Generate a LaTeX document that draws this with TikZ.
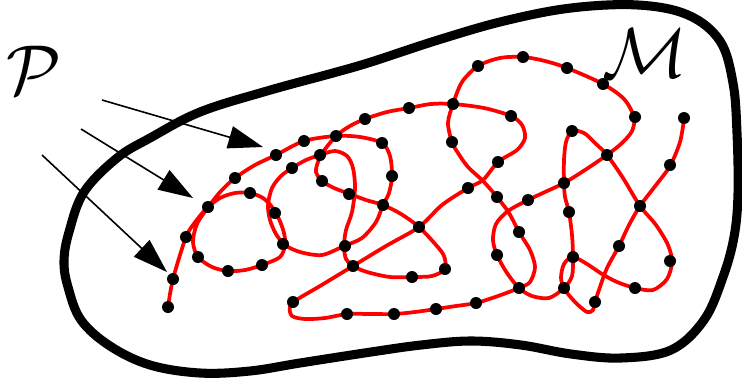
\documentclass[tikz,border=0pt]{standalone}
\usepackage{graphicx}
\usetikzlibrary{arrows.meta}
\DeclareFontShape{OMS}{cmsy}{m}{n}{<->cmsy10}{}
\begin{document}
\begin{tikzpicture}[x=0.75pt,y=-0.75pt,
  blob/.style={line width=6.8pt, line join=round},
  chain/.style={red, line width=2.8pt, line join=round, line cap=round},
  pointer/.style={line width=1.2pt, -{Triangle[length=26pt,width=17pt]}},
  lbl/.style={inner sep=0pt, font=\fontsize{53}{60}\selectfont}]
\useasboundingbox (0,0) rectangle (742,387);

% manifold outline
\draw[blob] plot[smooth cycle, tension=0.6] coordinates {
 (84,192) (117,158) (150,138) (200,112) (267,91) (333,73) (371,62) (438,40)
 (504,21) (571,8) (638,5) (688,15) (720,41) (733,83) (737,133) (738,194)
 (734,237) (723,277) (704,320) (671,350) (621,358) (571,354) (521,345)
 (471,341) (421,345) (371,352) (300,363) (250,371) (200,373) (150,365)
 (110,346) (81,320) (68,287) (64,261) (69,232)};

% labels
\node[lbl] (P) at (34,70) {$\mathcal{P}$};
\node[lbl] (M) at (645,53) {$\mathcal{M}$};

% arrows
\coordinate (a1s) at (102,100); \coordinate (a1t) at (263,147);
\coordinate (a2s) at (81,129);  \coordinate (a2t) at (193,198);
\coordinate (a3s) at (42,155);  \coordinate (a3t) at (167,272);
\draw[pointer] (a1s) -- (a1t);
\draw[pointer] (a2s) -- (a2t);
\draw[pointer] (a3s) -- (a3t);

% polymer chain
\draw[chain] plot[smooth, tension=0.5] coordinates {
 (168,307) (173,279) (186,237) (196,221) (207,208)
 (220,198) (235,193) (250,193) (263,198) (272,207) (279,219) (284,233) (285,245)
 (280,257) (262,265) (245,270) (228,271) (212,267) (198,257) (193,242) (197,224) (209,206)
 (221,191) (235,178) (255,165) (276,155) (304,141) (336,136)
 (360,137) (382,143) (390,156) (392,176) (389,193) (383,205) (376,222) (362,238) (344,246)
 (322,255) (300,252) (285,245) (276,234) (270,220) (268,205) (272,188) (281,176) (292,168)
 (306,160) (320,155)
 (335,151) (347,156) (353,168) (355,188) (352,212) (346,230) (344,246) (346,259) (353,266)
 (367,272) (390,277) (412,277) (432,276) (445,269) (444,256) (436,245) (419,227) (401,214)
 (383,205) (366,200) (350,194) (334,188) (322,181) (316,172) (318,162) (323,152)
 (336,136) (350,126) (365,119) (387,112) (409,108) (431,104) (453,104)
 (484,108) (511,116) (522,125) (525,138) (517,150) (498,162) (483,180) (468,188) (442,205)
 (419,227) (386,246) (353,266) (320,286) (298,299) (290,307) (292,316) (305,319) (325,318)
 (347,314) (370,314) (394,314) (415,312) (436,309) (456,306) (476,303) (498,296) (519,288)
 (530,282) (535,267) (530,250) (519,232) (509,213) (497,197) (483,181) (468,167) (458,153)
 (452,142) (448,123) (453,104)
 (462,82) (478,66) (500,58) (523,57) (545,61) (567,68) (603,84) (624,99) (634,117) (632,131)
 (622,143) (607,155) (585,170) (564,183) (545,192) (528,200) (508,211) (496,224) (493,240)
 (497,255) (507,273) (519,288)
 (532,296) (549,298) (564,288) (572,276) (573,257) (572,235) (569,212) (565,197) (564,183)
 (564,160) (566,142) (572,131) (584,133) (595,143) (607,155) (623,178) (640,206) (656,225)
 (668,245) (672,262) (667,279) (653,290) (635,288) (617,282) (602,274) (587,264) (573,257)
 (564,264) (561,278) (565,290) (576,303) (587,312) (593,310) (595,302) (600,287) (607,268)
 (619,246) (629,225) (640,206) (656,185) (670,166) (680,142) (684,119)};

% beads
\foreach \x/\y in {168/307,173/279,186/237,208/207,235/178,250/193,276/155,275/213,
 283/244,262/265,228/271,198/257,304/141,336/136,292/168,320/155,322/181,349/194,
 365/119,409/108,382/143,392/176,383/205,345/246,353/266,419/227,445/269,412/277,
 293/302,347/314,394/314,436/309,476/303,453/104,478/66,523/57,567/68,603/84,
 635/117,511/116,452/142,498/162,468/188,497/197,528/200,564/183,572/131,607/155,
 684/118,670/165,640/206,569/212,519/232,497/255,573/257,619/246,670/261,519/288,
 564/288,635/288,595/302}
  \fill (\x,\y) circle[radius=4.5pt];
\end{tikzpicture}
\end{document}
